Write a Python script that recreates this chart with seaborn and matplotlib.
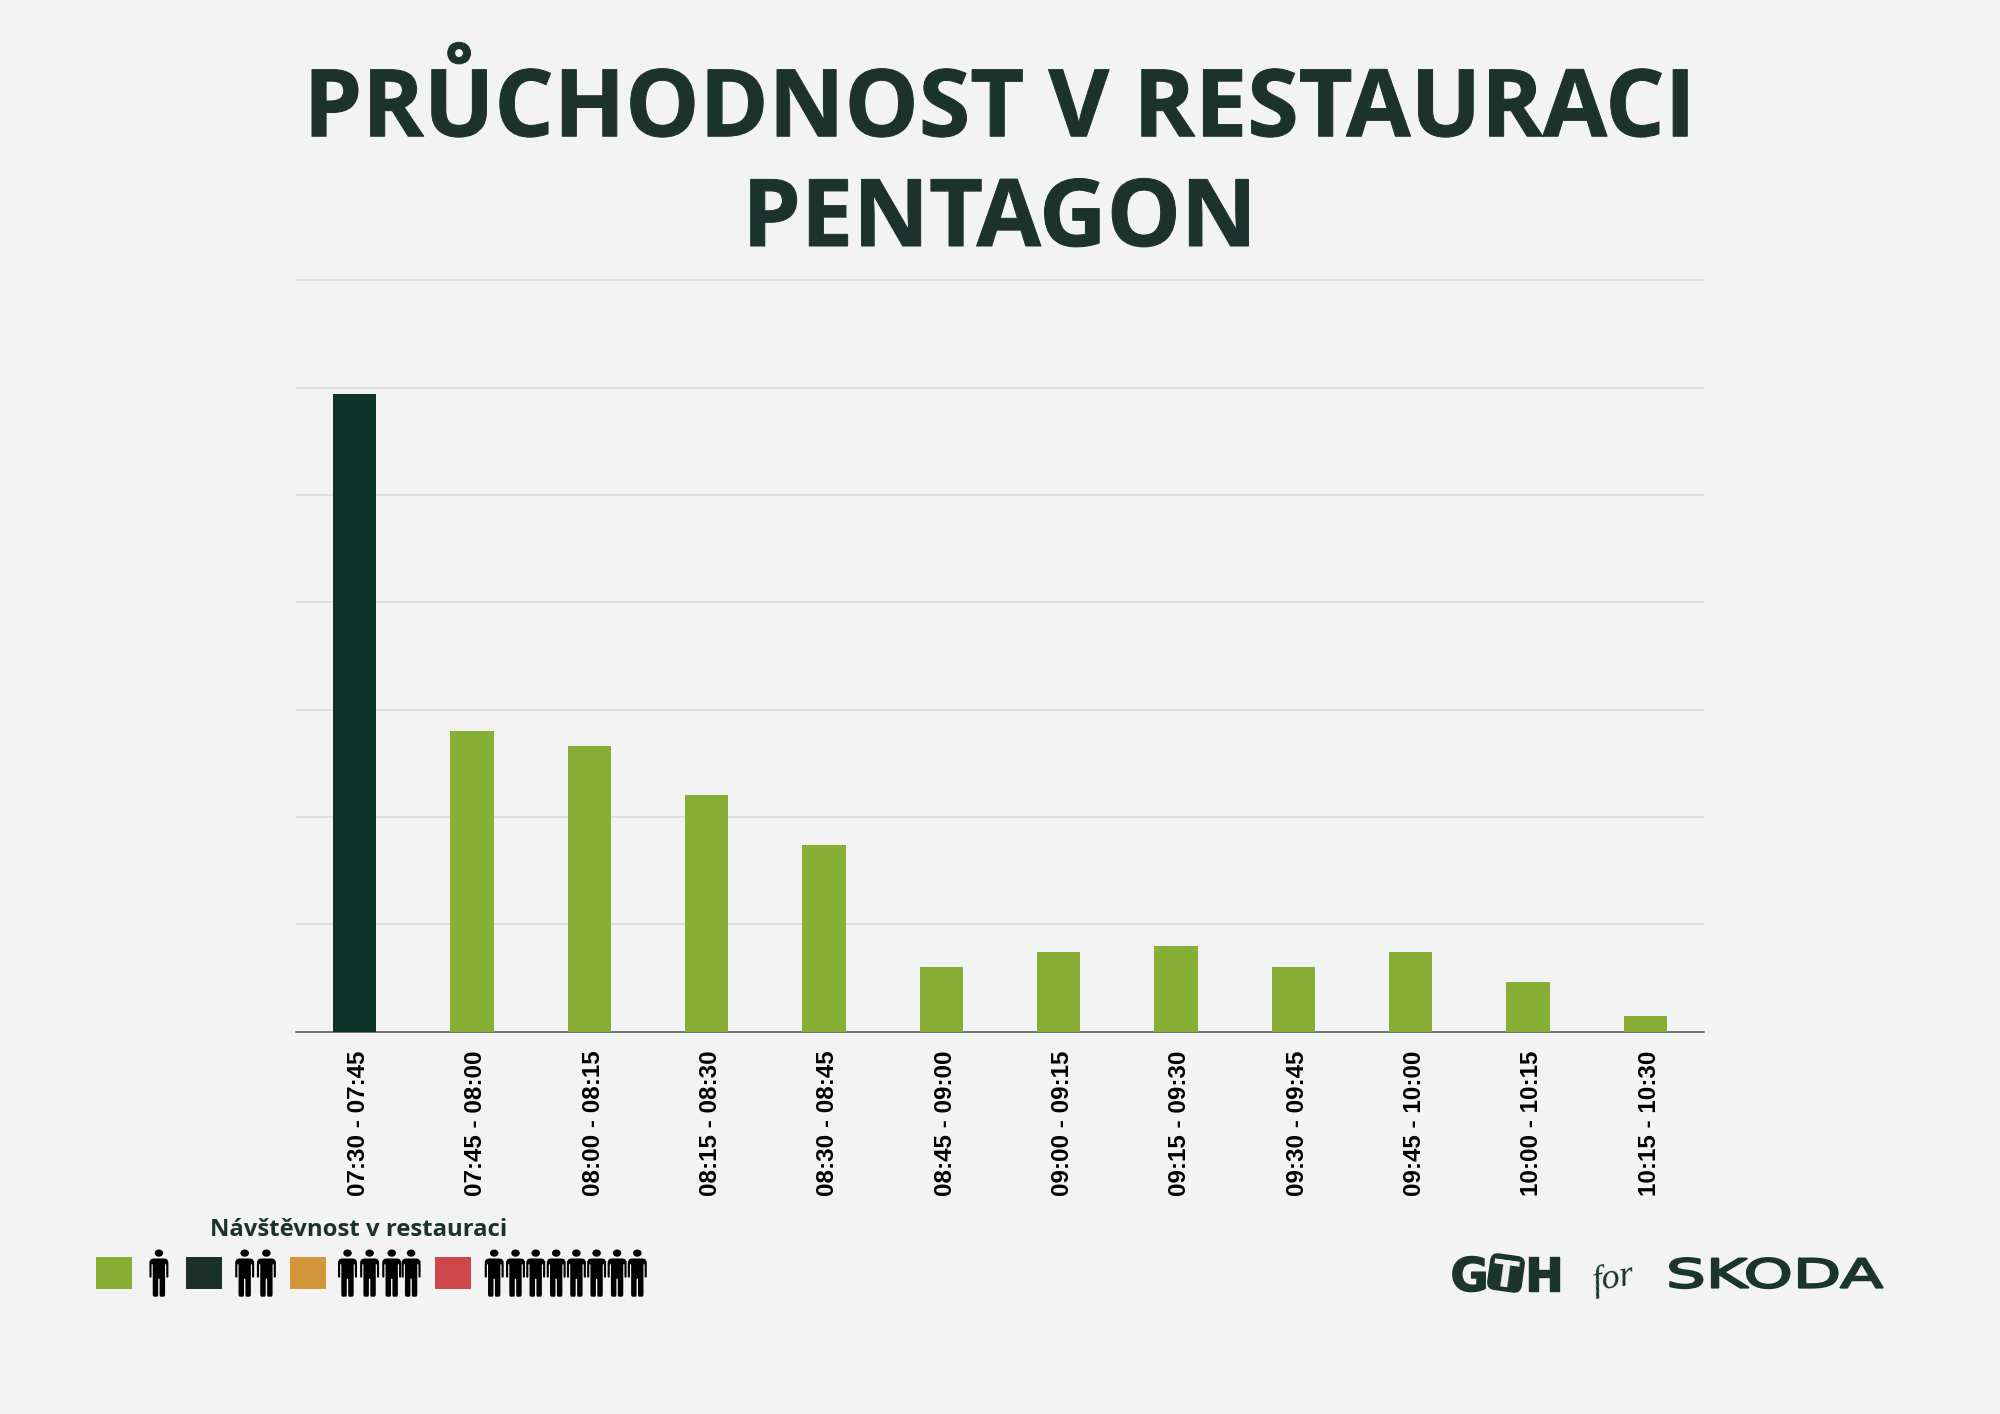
import matplotlib
matplotlib.use("Agg")
import matplotlib.pyplot as plt
import seaborn as sns
from matplotlib.patches import PathPatch, Rectangle, FancyBboxPatch, Circle
from matplotlib.path import Path
from matplotlib.transforms import Affine2D, ScaledTranslation
from matplotlib.patheffects import AbstractPathEffect

time_slots = ["07:30 - 07:45", "07:45 - 08:00", "08:00 - 08:15", "08:15 - 08:30",
              "08:30 - 08:45", "08:45 - 09:00", "09:00 - 09:15", "09:15 - 09:30",
              "09:30 - 09:45", "09:45 - 10:00", "10:00 - 10:15", "10:15 - 10:30"]
visitors = [297, 140, 133, 110, 87, 30, 37, 40, 30, 37, 23, 7]
level = ["high", "low", "low", "low", "low", "low", "low", "low", "low", "low", "low", "low"]
level_colors = {"low": "#87AE35", "high": "#0E3329"}

title_text = "PRŮCHODNOST V RESTAURACI\nPENTAGON"
legend_title = "Návštěvnost v restauraci"
legend_colors = ["#87AE35", "#1B3029", "#D3963B", "#CE484B"]

BG = "#F2F3F2"
INK = "#1B332C"
W, H = 2000, 1414

sns.set_theme(style="white")
plt.rcParams["font.family"] = ["Open Sans", "DejaVu Sans"]

fig = plt.figure(figsize=(W / 100, H / 100), dpi=100, facecolor=BG)
ax = fig.add_axes([296 / W, 1 - 1031.5 / H, 1408 / W, 751 / H], facecolor=BG)

sns.barplot(x=time_slots, y=visitors, hue=level, palette=level_colors, dodge=False,
            width=0.37, legend=False, ax=ax, saturation=1, zorder=3, linewidth=0,
            edgecolor="none")
ax.set_xlim(-0.5, 11.5)
ax.set_ylim(0, 350)
ax.set_yticks(range(0, 351, 50))
ax.set_yticklabels([])
ax.grid(axis="y", color="#DBDDDB", lw=1.2, zorder=0)
ax.grid(axis="x", visible=False)
ax.set_axisbelow(True)
for gl in ax.get_ygridlines():
    gl.set_clip_on(False)
for side in ("top", "left", "right"):
    ax.spines[side].set_visible(False)
ax.spines["bottom"].set_color("#555555")
ax.spines["bottom"].set_linewidth(1.1)
ax.tick_params(axis="x", length=0, pad=13.7)
ax.tick_params(axis="y", length=0)
ax.set_xlabel("")
ax.set_ylabel("")
shift = ScaledTranslation(4 / 100, 0, fig.dpi_scale_trans)
for lab in ax.get_xticklabels():
    lab.set_rotation(90)
    lab.set_family("Liberation Sans")
    lab.set_fontweight("bold")
    lab.set_fontsize(17.4)
    lab.set_color("black")
    lab.set_transform(lab.get_transform() + shift)

# pixel-space helper for decorations
px = Affine2D().scale(1 / W, -1 / H).translate(0, 1) + fig.transFigure


class Stretch(AbstractPathEffect):
    """Stretch live text horizontally about its anchor, with an optional outline."""
    def __init__(self, sx, lw=0, color=None):
        super().__init__()
        self.sx, self.lw, self.color = sx, lw, color

    def draw_path(self, renderer, gc, tpath, affine, rgbFace=None):
        x0, y0 = affine.transform((0, 0))
        t = affine + Affine2D().translate(-x0, -y0).scale(self.sx, 1).translate(x0, y0)
        gc0 = renderer.new_gc()
        gc0.copy_properties(gc)
        if self.lw:
            gc0.set_linewidth(self.lw)
            gc0.set_foreground(self.color)
        renderer.draw_path(gc0, tpath, t, rgbFace)
        gc0.restore()


fig.text(0.4998, 1 - 246 / H, title_text, ha="center", va="baseline", color=INK,
         fontsize=67.2, fontweight="bold", linespacing=1.236, family="Open Sans",
         path_effects=[Stretch(1.0, 0.7, INK)])

# legend
fig.text(358.3 / W, 1 - 1236 / H, legend_title, ha="center", va="baseline", color=INK,
         fontsize=17.2, fontweight="bold", family="Open Sans")

swatch_left = [96, 185.5, 290, 434.5]
group_people = [[158.9], [244.7, 266.4], [347.5, 369.6, 391.7, 411.1],
                [494.2, 515.5, 535.7, 556.2, 576.4, 596.6, 617.1, 637.3]]

half = [(-1, 9.2), (-4.6, 9.2), (-6.6, 9.8), (-7.9, 12), (-8, 14), (-8, 27.5), (-7.5, 28.3),
        (-6.6, 28.3), (-6.2, 27.5), (-6.2, 15), (-5.2, 15), (-5.2, 46), (-4.4, 47.4),
        (-1.2, 47.4), (-0.6, 46), (-0.6, 29.5), (0, 29.5)]
verts = half + [(-x, y) for x, y in reversed(half[:-1])]
body = Path(verts + [verts[0]], closed=True)

for left, col, people in zip(swatch_left, legend_colors, group_people):
    fig.add_artist(Rectangle((left, 1256.7), 36, 32, transform=px, facecolor=col, edgecolor="none"))
    for cx in people:
        t = Affine2D().scale(1.186, 1).translate(cx, 1249.3) + px
        fig.add_artist(PathPatch(body, transform=t, facecolor="black", edgecolor="none"))
        fig.add_artist(Circle((0, 3.8), 3.6, transform=t, facecolor="black", edgecolor="none"))

# logos
LOGO = "#1B352D"
heavy = [Stretch(1.0, 1.0, LOGO)]
fig.text(1450.5 / W, 1 - 1291 / H, "G", color=LOGO, family="DejaVu Sans", fontweight="bold",
         fontsize=33.5, va="baseline", ha="left", path_effects=heavy)
fig.text(1524.5 / W, 1 - 1291 / H, "H", color=LOGO, family="DejaVu Sans", fontweight="bold",
         fontsize=33.5, va="baseline", ha="left", path_effects=heavy)
box_t = Affine2D().rotate_deg(8).translate(1506, 1273) + px
fig.add_artist(FancyBboxPatch((-14.5, -15.5), 29, 31, boxstyle="round,pad=3,rounding_size=8",
                              transform=box_t, facecolor=LOGO, edgecolor="none", zorder=3))
fig.text(1504 / W, 1 - 1287 / H, "T", color=BG, family="DejaVu Sans", fontweight="bold",
         fontsize=27, va="baseline", ha="center", rotation=-8, rotation_mode="anchor", zorder=4)
fig.text(1594 / W, 1 - 1291 / H, "for", color=LOGO, family="Liberation Serif", style="italic",
         fontsize=26, va="baseline", ha="left", rotation=10, rotation_mode="anchor")
fig.text(1666 / W, 1 - 1287.5 / H, "SKODA", color=LOGO, family="DejaVu Sans",
         fontsize=28.5, va="baseline", ha="left", path_effects=[Stretch(1.585, 1.6, LOGO)])

fig.savefig("out.png", dpi=100, facecolor=BG)
